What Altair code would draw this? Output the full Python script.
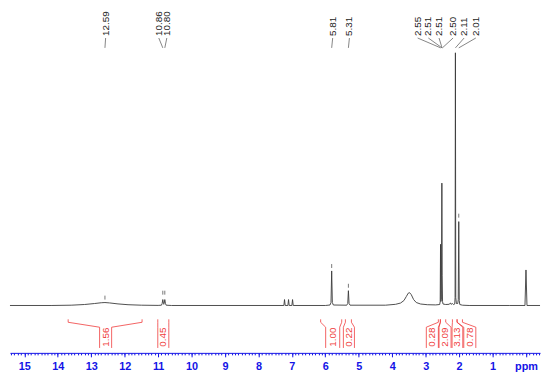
import altair as alt
import pandas as pd
import numpy as np

# ---- spectrum trace (ppm, intensity) ----
spec_ppm = [15.43, 14.2, 13.6, 13.2, 12.9, 12.7, 12.59, 12.45, 12.2, 11.9, 11.5, 11.0,
            10.9, 10.88, 10.86, 10.84, 10.83, 10.82, 10.80, 10.78, 10.76, 10.6,
            7.24, 7.22, 7.20, 7.12, 7.10, 7.08, 7.00, 6.98, 6.96,
            6.0, 5.86, 5.83, 5.81, 5.79, 5.76,
            5.36, 5.33, 5.31, 5.29, 5.26,
            4.2, 3.9, 3.75, 3.65, 3.58, 3.52, 3.48, 3.43, 3.36, 3.28, 3.15, 2.95, 2.7,
            2.58, 2.565, 2.555, 2.545, 2.53, 2.515, 2.505, 2.495, 2.48, 2.4, 2.3, 2.26, 2.24, 2.2, 2.17,
            2.13, 2.12, 2.11, 2.10, 2.08, 2.04, 2.025, 2.01, 1.995, 1.98, 1.9, 1.7,
            0.5, 0.03, 0.0, -0.03, -0.42]
spec_int = [0, 0, 0.3, 1.0, 2.0, 2.8, 3.0, 2.6, 1.6, 0.8, 0.3, 0.1,
            0.3, 2, 6, 2, 1.2, 2, 6, 2, 0.3, 0,
            0, 6, 0, 0, 6, 0, 0, 6, 0,
            0, 0.5, 3, 35, 3, 0.5,
            0.3, 2, 15, 2, 0.3,
            0.3, 1.2, 2.5, 5, 9, 12.5, 13, 11, 6, 3, 1.5, 0.8, 0.6,
            1, 4, 62, 4, 6, 124, 30, 4, 1.5, 1, 1.2, 2.5, 1.2, 2, 1,
            1.5, 8, 256, 8, 2, 2, 6, 85, 5, 1, 0.3, 0,
            0, 0, 36, 0, 0]

# ---- peak labels ----
peak_text = ["12.59", "10.86", "10.80", "5.81", "5.31", "2.55", "2.51", "2.51", "2.50", "2.11", "2.01"]
peak_ppm = [12.59, 10.86, 10.80, 5.81, 5.31, 2.55, 2.51, 2.51, 2.50, 2.11, 2.01]
label_ppm = [12.57, 10.98, 10.74, 5.78, 5.28, 3.24, 2.92, 2.60, 2.18, 1.85, 1.50]

# ---- peak-pick markers ----
marker_ppm = [12.59, 10.86, 10.80, 5.81, 5.31, 2.01]
marker_base = [6, 11, 11, 38, 18, 89]

# ---- integrals ----
int_text = ["1.56", "0.45", "1.00", "0.22", "0.28", "2.09", "3.13", "0.78"]
int_r1 = [13.69, 11.01, 6.14, 5.40, 2.62, 2.56, 2.20, 2.06]
int_r2 = [11.48, 10.68, 5.51, 5.22, 2.56, 2.40, 2.06, 1.90]
int_b1 = [12.75, 11.01, 5.99, 5.46, 2.98, 2.60, 2.21, 1.86]
int_b2 = [12.39, 10.68, 5.57, 5.13, 2.62, 2.24, 1.89, 1.50]

major_ticks = list(range(0, 16))

# ---------------------------------------------------------------
spec_df = pd.DataFrame({"ppm": spec_ppm, "i": spec_int, "k": range(len(spec_ppm))})
lab_df = pd.DataFrame({"t": peak_text, "p": peak_ppm, "lp": label_ppm})
mk_df = pd.DataFrame({"p": marker_ppm, "b": marker_base})
mk_df["b2"] = mk_df["b"] + 4

TOP_T, TOP_L1, TOP_L2 = 273, 271, 261
lab_df["y"] = TOP_T
lab_df["y1"] = TOP_L1
lab_df["y2"] = TOP_L2

segs = []
for r1, r2, b1, b2 in zip(int_r1, int_r2, int_b1, int_b2):
    segs += [
        (r1, r1, -14, -17), (r1, b1, -17, -22), (b1, b1, -22, -43),
        (r2, r2, -14, -17), (r2, b2, -17, -22), (b2, b2, -22, -43),
    ]
seg_df = pd.DataFrame(segs, columns=["x", "x2", "y", "y2"])
int_df = pd.DataFrame({"t": int_text, "c": [(a + b) / 2 for a, b in zip(int_b1, int_b2)]})
int_df["y"] = -32

BLUE = "#1414e6"
RED = "#f03c3c"
xs = alt.Scale(domain=[-0.42, 15.43], reverse=True, nice=False, zero=False)
ys = alt.Scale(domain=[-48, 298], nice=False, zero=False)
minor_vals = [round(v, 1) for v in np.arange(-0.4, 15.41, 0.1)]

spec = alt.Chart(spec_df).mark_line(color="#3a3a3a", strokeWidth=0.9).encode(
    x=alt.X("ppm:Q", scale=xs, axis=alt.Axis(values=minor_vals, labels=False, tickSize=2,
                                                tickColor=BLUE, domainColor=BLUE, orient="bottom",
                                                grid=False, title=None, tickWidth=1, domainWidth=1)),
    y=alt.Y("i:Q", scale=ys, axis=None),
    order="k:Q",
)

markers = alt.Chart(mk_df).mark_rule(color="#555555", strokeWidth=0.8).encode(
    x=alt.X("p:Q", scale=xs, axis=None), y=alt.Y("b:Q", scale=ys, axis=None), y2="b2:Q")

lab_text = alt.Chart(lab_df).mark_text(angle=270, align="left", baseline="middle", fontSize=10,
                                       font="Liberation Sans", color="#222222").encode(
    x=alt.X("lp:Q", scale=xs, axis=None), y=alt.Y("y:Q", scale=ys, axis=None), text="t:N")

lab_lines = alt.Chart(lab_df).mark_rule(color="#666666", strokeWidth=0.8).encode(
    x=alt.X("lp:Q", scale=xs, axis=None), x2="p:Q",
    y=alt.Y("y1:Q", scale=ys, axis=None), y2="y2:Q")

int_lines = alt.Chart(seg_df).mark_rule(color=RED, strokeWidth=0.8).encode(
    x=alt.X("x:Q", scale=xs, axis=None), x2="x2:Q",
    y=alt.Y("y:Q", scale=ys, axis=None), y2="y2:Q")

int_text_l = alt.Chart(int_df).mark_text(angle=270, align="center", baseline="middle", fontSize=10,
                                         font="Liberation Sans", color=RED).encode(
    x=alt.X("c:Q", scale=xs, axis=alt.Axis(values=major_ticks, tickSize=4, tickColor=BLUE, domain=False,
                                            labelColor=BLUE, labelFont="Liberation Sans", labelFontSize=11,
                                            labelFontWeight="bold", labelPadding=4, grid=False, title=None,
                                            orient="bottom", labelFlush=False, labelOverlap=False,
                                            labelExpr="datum.value == 0 ? 'ppm' : datum.label")),
    y=alt.Y("y:Q", scale=ys, axis=None), text="t:N")

chart = alt.layer(spec, markers, lab_lines, lab_text, int_lines, int_text_l).resolve_axis(
    x="independent").properties(width=537, height=346, padding=0, background="white").configure_view(stroke=None)

chart.save("out.html", embed_options={"renderer": "svg", "actions": False})
